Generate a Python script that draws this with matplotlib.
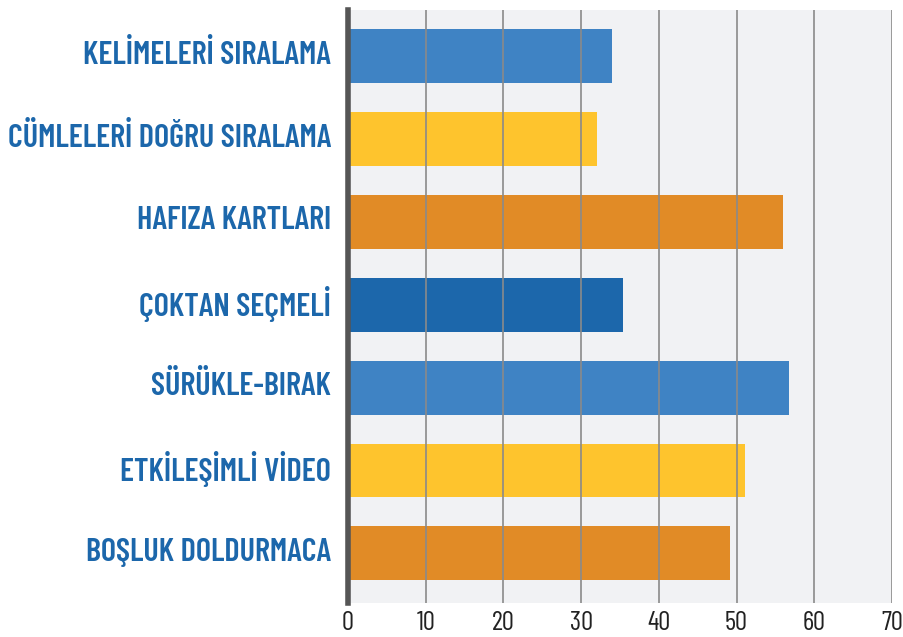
import matplotlib
matplotlib.use("Agg")
import matplotlib.pyplot as plt
from matplotlib.transforms import ScaledTranslation

categories = ["KELİMELERİ SIRALAMA", "CÜMLELERİ DOĞRU SIRALAMA", "HAFIZA KARTLARI",
              "ÇOKTAN SEÇMELİ", "SÜRÜKLE-BIRAK", "ETKİLEŞİMLİ VİDEO", "BOŞLUK DOLDURMACA"]
values = [34.0, 32.0, 56.0, 35.4, 56.8, 51.1, 49.2]
colors = ["#3f83c4", "#fec42d", "#e18b26", "#1c67ab", "#3f83c4", "#fec42d", "#e18b26"]
xticks = [0, 10, 20, 30, 40, 50, 60, 70]

fam = ["Barlow Condensed", "Roboto Condensed", "Open Sans Condensed", "DejaVu Sans"]

fig = plt.figure(figsize=(9.04, 6.37), dpi=100)
ax = fig.add_axes([348/904, 1-603/637, (892-348)/904, (603-10)/637])
ax.set_facecolor("#f1f2f4")

y = list(range(len(categories)))
ax.barh(y, values, height=0.65, color=colors, zorder=1)
ax.set_ylim(len(categories) - 1 + 0.6, -0.56)
ax.set_xlim(0, 70)
ax.set_xticks(xticks)
ax.set_xticklabels([str(t) for t in xticks], family=fam, fontsize=19.5, color="#222222")
ax.xaxis.grid(True, color="#8a8a8a", linewidth=1.2, zorder=3)
ax.set_axisbelow(False)
ax.set_yticks(y)
ax.set_yticklabels(categories, family=fam, fontweight="semibold", fontsize=23.2, color="#1c67ab")
ax.tick_params(axis="both", length=0)
ax.tick_params(axis="x", pad=6)
ax.tick_params(axis="y", pad=12)
shift = ScaledTranslation(0, 3/72, fig.dpi_scale_trans)
for lab in ax.get_yticklabels():
    lab.set_transform(lab.get_transform() + shift)
for s in ["top", "right", "bottom"]:
    ax.spines[s].set_visible(False)
ax.spines["left"].set_color("#555555")
ax.spines["left"].set_linewidth(4)
ax.spines["left"].set_zorder(4)

fig.savefig("out.png", dpi=100)
